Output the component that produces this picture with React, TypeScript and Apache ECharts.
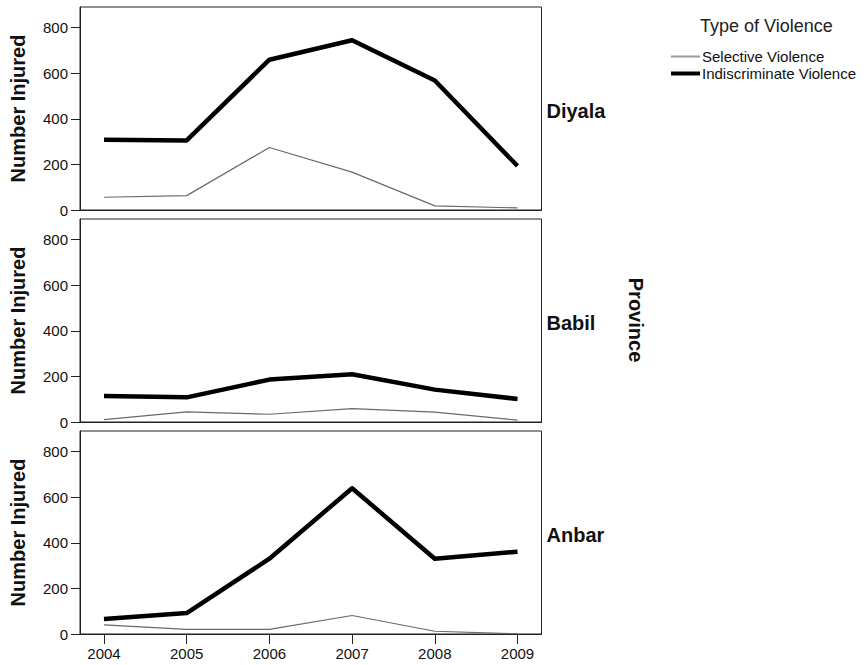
import React, { useEffect, useRef } from "react";
import * as echarts from "echarts";

const years = [2004, 2005, 2006, 2007, 2008, 2009];
const yTicks = [0, 200, 400, 600, 800];
const provinces = ["Diyala", "Babil", "Anbar"];
const diyalaSelective = [56, 63, 274, 166, 18, 9];
const diyalaIndiscriminate = [308, 305, 659, 744, 568, 193];
const babilSelective = [10, 44, 34, 59, 43, 8];
const babilIndiscriminate = [114, 108, 186, 209, 142, 101];
const anbarSelective = [40, 20, 20, 81, 12, 1];
const anbarIndiscriminate = [66, 92, 330, 639, 330, 361];

const selectiveByProvince = [diyalaSelective, babilSelective, anbarSelective];
const indiscriminateByProvince = [diyalaIndiscriminate, babilIndiscriminate, anbarIndiscriminate];

const FONT = "'Liberation Sans', Arial, Helvetica, sans-serif";
const GRID_LEFT = 77;
const GRID_W = 464.5;
const GRID_TOPS = [7, 219, 431];
const GRID_H = 203;

export default function App() {
  const ref = useRef<HTMLDivElement>(null);
  useEffect(() => {
    if (!ref.current) return;
    const chart = echarts.init(ref.current, null, { renderer: "svg" });

    const grids = GRID_TOPS.map((top) => ({
      left: GRID_LEFT,
      top,
      width: GRID_W,
      height: GRID_H,
      show: true,
      borderColor: "#222",
      borderWidth: 1,
      backgroundColor: "transparent",
    }));

    const xAxes = GRID_TOPS.map((_, i) => ({
      type: "value",
      gridIndex: i,
      min: 2003.71,
      max: 2009.29,
      axisLine: { show: true, lineStyle: { color: "#222", width: 1 } },
      axisTick: {
        show: i === 2,
        length: 10,
        customValues: years,
        lineStyle: { color: "#222", width: 1 },
      },
      axisLabel: {
        show: i === 2,
        customValues: years,
        margin: 12,
        fontSize: 15,
        fontFamily: FONT,
        color: "#111",
        formatter: (v: number) => String(Math.round(v)),
      },
      splitLine: { show: false },
    }));

    const yAxes = GRID_TOPS.map((_, i) => ({
      type: "value",
      gridIndex: i,
      min: 0,
      max: 890,
      name: "Number Injured",
      nameLocation: "middle",
      nameGap: 52,
      nameTextStyle: { fontSize: 20, fontWeight: "bold", fontFamily: FONT, color: "#111" },
      axisLine: { show: true, lineStyle: { color: "#222", width: 1 } },
      axisTick: {
        show: true,
        length: 9,
        customValues: yTicks,
        lineStyle: { color: "#222", width: 1 },
      },
      axisLabel: {
        customValues: yTicks,
        margin: 12,
        fontSize: 15,
        fontFamily: FONT,
        color: "#111",
        formatter: (v: number) => String(Math.round(v)),
      },
      splitLine: { show: false },
    }));

    const series: any[] = [];
    provinces.forEach((_, i) => {
      series.push({
        name: "Selective Violence",
        type: "line",
        xAxisIndex: i,
        yAxisIndex: i,
        showSymbol: false,
        data: years.map((y, k) => [y, selectiveByProvince[i][k]]),
        lineStyle: { color: "#6a6a6a", width: 1.2 },
        itemStyle: { color: "#999" },
        z: 3,
      });
      series.push({
        name: "Indiscriminate Violence",
        type: "line",
        xAxisIndex: i,
        yAxisIndex: i,
        showSymbol: false,
        data: years.map((y, k) => [y, indiscriminateByProvince[i][k]]),
        lineStyle: { color: "#000", width: 4.5, join: "round" },
        itemStyle: { color: "#000" },
        z: 4,
      });
    });

    const graphics: any[] = provinces.map((p, i) => ({
      type: "text",
      left: GRID_LEFT + GRID_W + 5,
      top: GRID_TOPS[i] + GRID_H / 2 - 8,
      style: {
        text: p,
        fontSize: 20,
        fontWeight: "bold",
        fontFamily: FONT,
        fill: "#111",
      },
    }));
    graphics.push({
      type: "text",
      x: 636,
      y: 320,
      rotation: -Math.PI / 2,
      style: {
        text: "Province",
        fontSize: 20,
        fontWeight: "bold",
        fontFamily: FONT,
        fill: "#111",
        align: "center",
        verticalAlign: "middle",
      },
    });

    const legendCommon = {
      orient: "vertical",
      left: 671,
      itemWidth: 29,
      itemGap: 0,
      icon: "rect",
      padding: 0,
      textStyle: { fontSize: 15, fontFamily: FONT, color: "#111", padding: [0, 0, 0, -3] },
      selectedMode: false,
    };

    chart.setOption({
      animation: false,
      backgroundColor: "#fff",
      title: {
        text: "Type of Violence",
        left: 700,
        top: 17,
        padding: 0,
        textStyle: { fontSize: 18, fontWeight: "normal", fontFamily: FONT, color: "#222" },
      },
      legend: [
        { ...legendCommon, top: 49, itemHeight: 2, data: ["Selective Violence"] },
        { ...legendCommon, top: 66, itemHeight: 4, data: ["Indiscriminate Violence"] },
      ],
      grid: grids,
      xAxis: xAxes,
      yAxis: yAxes,
      series,
      graphic: graphics,
    });
    return () => chart.dispose();
  }, []);
  return (
    <div
      ref={ref}
      style={{ position: "fixed", left: 0, top: 0, width: 864, height: 665 }}
    />
  );
}
